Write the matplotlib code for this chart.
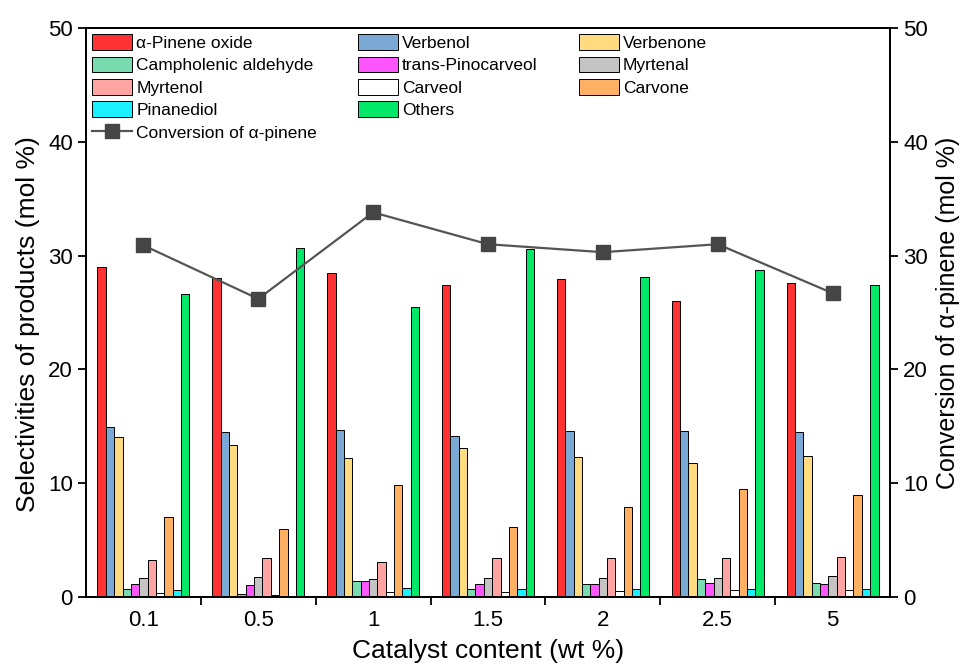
import matplotlib
matplotlib.use("Agg")
import matplotlib.pyplot as plt
import numpy as np
from matplotlib.patches import Rectangle

plt.rcParams['font.family'] = ['Liberation Sans', 'DejaVu Sans']

categories = ["0.1", "0.5", "1", "1.5", "2", "2.5", "5"]
products = ["α-Pinene oxide", "Verbenol", "Verbenone", "Campholenic aldehyde",
            "trans-Pinocarveol", "Myrtenal", "Myrtenol", "Carveol", "Carvone",
            "Pinanediol", "Others"]
colors = ["#FF3333", "#7BA9D6", "#FFDB80", "#78DCB0", "#FF55FF", "#C4C4C4",
          "#FFA3A3", "#FFFFFF", "#FFB062", "#1AF0FF", "#00E868"]

pinene_oxide = [29.0, 28.0, 28.5, 27.4, 27.9, 26.0, 27.55]
verbenol = [14.97, 14.5, 14.7, 14.15, 14.6, 14.6, 14.47]
verbenone = [14.1, 13.4, 12.25, 13.1, 12.33, 11.75, 12.4]
campholenic = [0.74, 0.3, 1.4, 0.74, 1.14, 1.58, 1.26]
pinocarveol = [1.18, 1.05, 1.4, 1.14, 1.14, 1.26, 1.11]
myrtenal = [1.7, 1.78, 1.58, 1.64, 1.7, 1.64, 1.84]
myrtenol = [3.23, 3.45, 3.05, 3.4, 3.4, 3.4, 3.49]
carveol = [0.35, 0.2, 0.4, 0.4, 0.53, 0.6, 0.6]
carvone = [7.03, 5.95, 9.84, 6.18, 7.88, 9.46, 8.96]
pinanediol = [0.6, 0.0, 0.76, 0.74, 0.74, 0.74, 0.74]
others = [26.6, 30.7, 25.5, 30.6, 28.15, 28.7, 27.4]
conversion = [30.9, 26.2, 33.8, 31.0, 30.3, 31.0, 26.7]

series = [pinene_oxide, verbenol, verbenone, campholenic, pinocarveol, myrtenal,
          myrtenol, carveol, carvone, pinanediol, others]

fig = plt.figure(figsize=(9.63, 6.64), dpi=100)
ax = fig.add_axes([86/963, 1-597/664, (890-86)/963, (597-28)/664])
x = np.arange(len(categories))
n = len(series)
w = 0.8 / n
handles = []
for i, (vals, c, lab) in enumerate(zip(series, colors, products)):
    h = ax.bar(x - 0.4 + w*(i+0.5), vals, width=w, color=c, edgecolor='black',
               linewidth=0.7, label=lab)
    handles.append(h)

ax.set_xlim(-0.5, len(categories)-0.5)
ax.set_ylim(0, 50)
ax.set_xticks(x)
ax.set_xticklabels(categories)
ax.set_xticks(np.arange(0.5, len(categories)-0.5, 1), minor=True)
ax.tick_params(axis='x', which='major', length=0, labelsize=16, pad=9)
ax.tick_params(axis='x', which='minor', length=6, width=1.3, direction='out')
ax.set_yticks(np.arange(0, 51, 10))
ax.tick_params(axis='y', length=6, width=1.3, labelsize=16, direction='out')
ax.set_xlabel("Catalyst content (wt %)", fontsize=19, labelpad=6)
ax.set_ylabel("Selectivities of products (mol %)", fontsize=19, labelpad=4)
ax.yaxis.set_label_coords(-0.057, 0.48)
for s in ax.spines.values():
    s.set_linewidth(1.3)

ax2 = ax.twinx()
ax2.set_ylim(0, 50)
ax2.set_yticks(np.arange(0, 51, 10))
ax2.tick_params(axis='y', length=6, width=1.3, labelsize=16, direction='out')
line, = ax2.plot(x, conversion, color='#555555', linewidth=1.6, marker='s',
                 markersize=10, markerfacecolor='#454545', markeredgecolor='#454545',
                 label="Conversion of α-pinene")
ax2.set_ylabel("Conversion of α-pinene (mol %)", fontsize=18, labelpad=6)
for s in ax2.spines.values():
    s.set_linewidth(1.3)

blank = Rectangle((0, 0), 1, 1, fill=False, edgecolor='none', linewidth=0)
leg_h = [handles[0], handles[3], handles[6], handles[9], line,
         handles[1], handles[4], handles[7], handles[10], blank,
         handles[2], handles[5], handles[8], blank, blank]
leg_l = [products[0], products[3], products[6], products[9], "Conversion of α-pinene",
         products[1], products[4], products[7], products[10], "",
         products[2], products[5], products[8], "", ""]
ax2.legend(leg_h, leg_l, ncol=3, loc='upper left', bbox_to_anchor=(0.0, 1.0),
           frameon=False, fontsize=12.5, handlelength=2.3, handleheight=1.0,
           handletextpad=0.25, columnspacing=2.35, labelspacing=0.33,
           borderaxespad=0.2, borderpad=0.15)

fig.savefig("out.png", dpi=100)
